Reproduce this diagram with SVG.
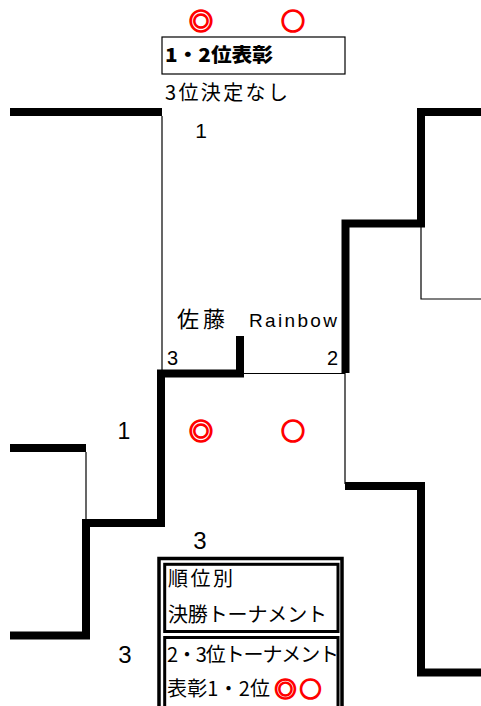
<svg xmlns="http://www.w3.org/2000/svg" width="481" height="706" viewBox="0 0 481 706">
<style>
.thick{fill:none;stroke:#000;stroke-width:8;stroke-linejoin:miter;stroke-linecap:butt}
.thin{fill:none;stroke:#000;stroke-width:1.2}
.jp{font-family:"Noto Sans CJK JP","Noto Sans CJK SC",sans-serif;fill:#000}
.num{font-family:"Liberation Sans",Arial,sans-serif;fill:#000}
.red{font-family:"Noto Sans CJK JP",sans-serif;fill:#ff0000;stroke:#ff0000;stroke-width:1.6;font-weight:bold}
</style>
<rect width="481" height="706" fill="#fff"/>
<g id="connectors">
<path class="thick" d="M10,112 H162"/>
<path class="thin" d="M162,116 V371"/>
<path class="thick" d="M10,448 H86"/>
<path class="thin" d="M86,452 V520"/>
<path class="thick" d="M10,635.5 H86 V523 H161 V373.5 H240 V336"/>
<path class="thin" d="M244,373.5 H345 V484"/>
<path class="thick" d="M345.5,373 V223.5 H421 V112 H481"/>
<path class="thin" d="M421,227 V299 H481"/>
<path class="thick" d="M345,486 H421 V672.5 H481"/>
</g>
<g id="title">
<text class="red" x="201" y="30" font-size="24" text-anchor="middle">◎</text>
<text class="red" x="293" y="30" font-size="24" text-anchor="middle">○</text>
<rect x="162" y="37" width="183" height="37" fill="none" stroke="#000" stroke-width="1.2"/>
<text class="jp" x="165" y="62" font-size="19" font-weight="900" textLength="108" lengthAdjust="spacingAndGlyphs">1・2位表彰</text>
<text class="jp" x="165" y="100" font-size="20" textLength="123" lengthAdjust="spacing">3位決定なし</text>
</g>
<g id="labels">
<text class="num" x="201" y="138" font-size="21" text-anchor="middle">1</text>
<text class="jp" x="177" y="327" font-size="22" textLength="48" lengthAdjust="spacing">佐藤</text>
<text class="num" x="249" y="327" font-size="19" textLength="88" lengthAdjust="spacing">Rainbow</text>
<text class="num" x="167" y="365" font-size="20">3</text>
<text class="num" x="327" y="365" font-size="20">2</text>
<text class="num" x="124" y="439" font-size="23" text-anchor="middle">1</text>
<text class="red" x="201" y="440" font-size="24" text-anchor="middle">◎</text>
<text class="red" x="293" y="440" font-size="24" text-anchor="middle">○</text>
<text class="num" x="200" y="549" font-size="24" text-anchor="middle">3</text>
<text class="num" x="125" y="663" font-size="24" text-anchor="middle">3</text>
</g>
<g id="legend">
<rect x="159" y="558.5" width="183" height="160" fill="none" stroke="#000" stroke-width="3.5"/>
<rect x="164.7" y="564.3" width="173.3" height="67.2" fill="none" stroke="#000" stroke-width="3"/>
<rect x="164.7" y="637.5" width="173.3" height="80" fill="none" stroke="#000" stroke-width="3"/>
<text class="jp" x="168" y="586" font-size="20" textLength="65" lengthAdjust="spacing">順位別</text>
<text class="jp" x="168" y="622" font-size="20" textLength="159" lengthAdjust="spacing">決勝トーナメント</text>
<text class="jp" x="167" y="662" font-size="20" textLength="172" lengthAdjust="spacing">2・3位トーナメント</text>
<text class="jp" x="167" y="696" font-size="20" textLength="103" lengthAdjust="spacing">表彰1・2位</text>
<text class="red" x="285.5" y="697" font-size="22" text-anchor="middle">◎</text>
<text class="red" x="310.5" y="697" font-size="22" text-anchor="middle">○</text>
</g>
</svg>
